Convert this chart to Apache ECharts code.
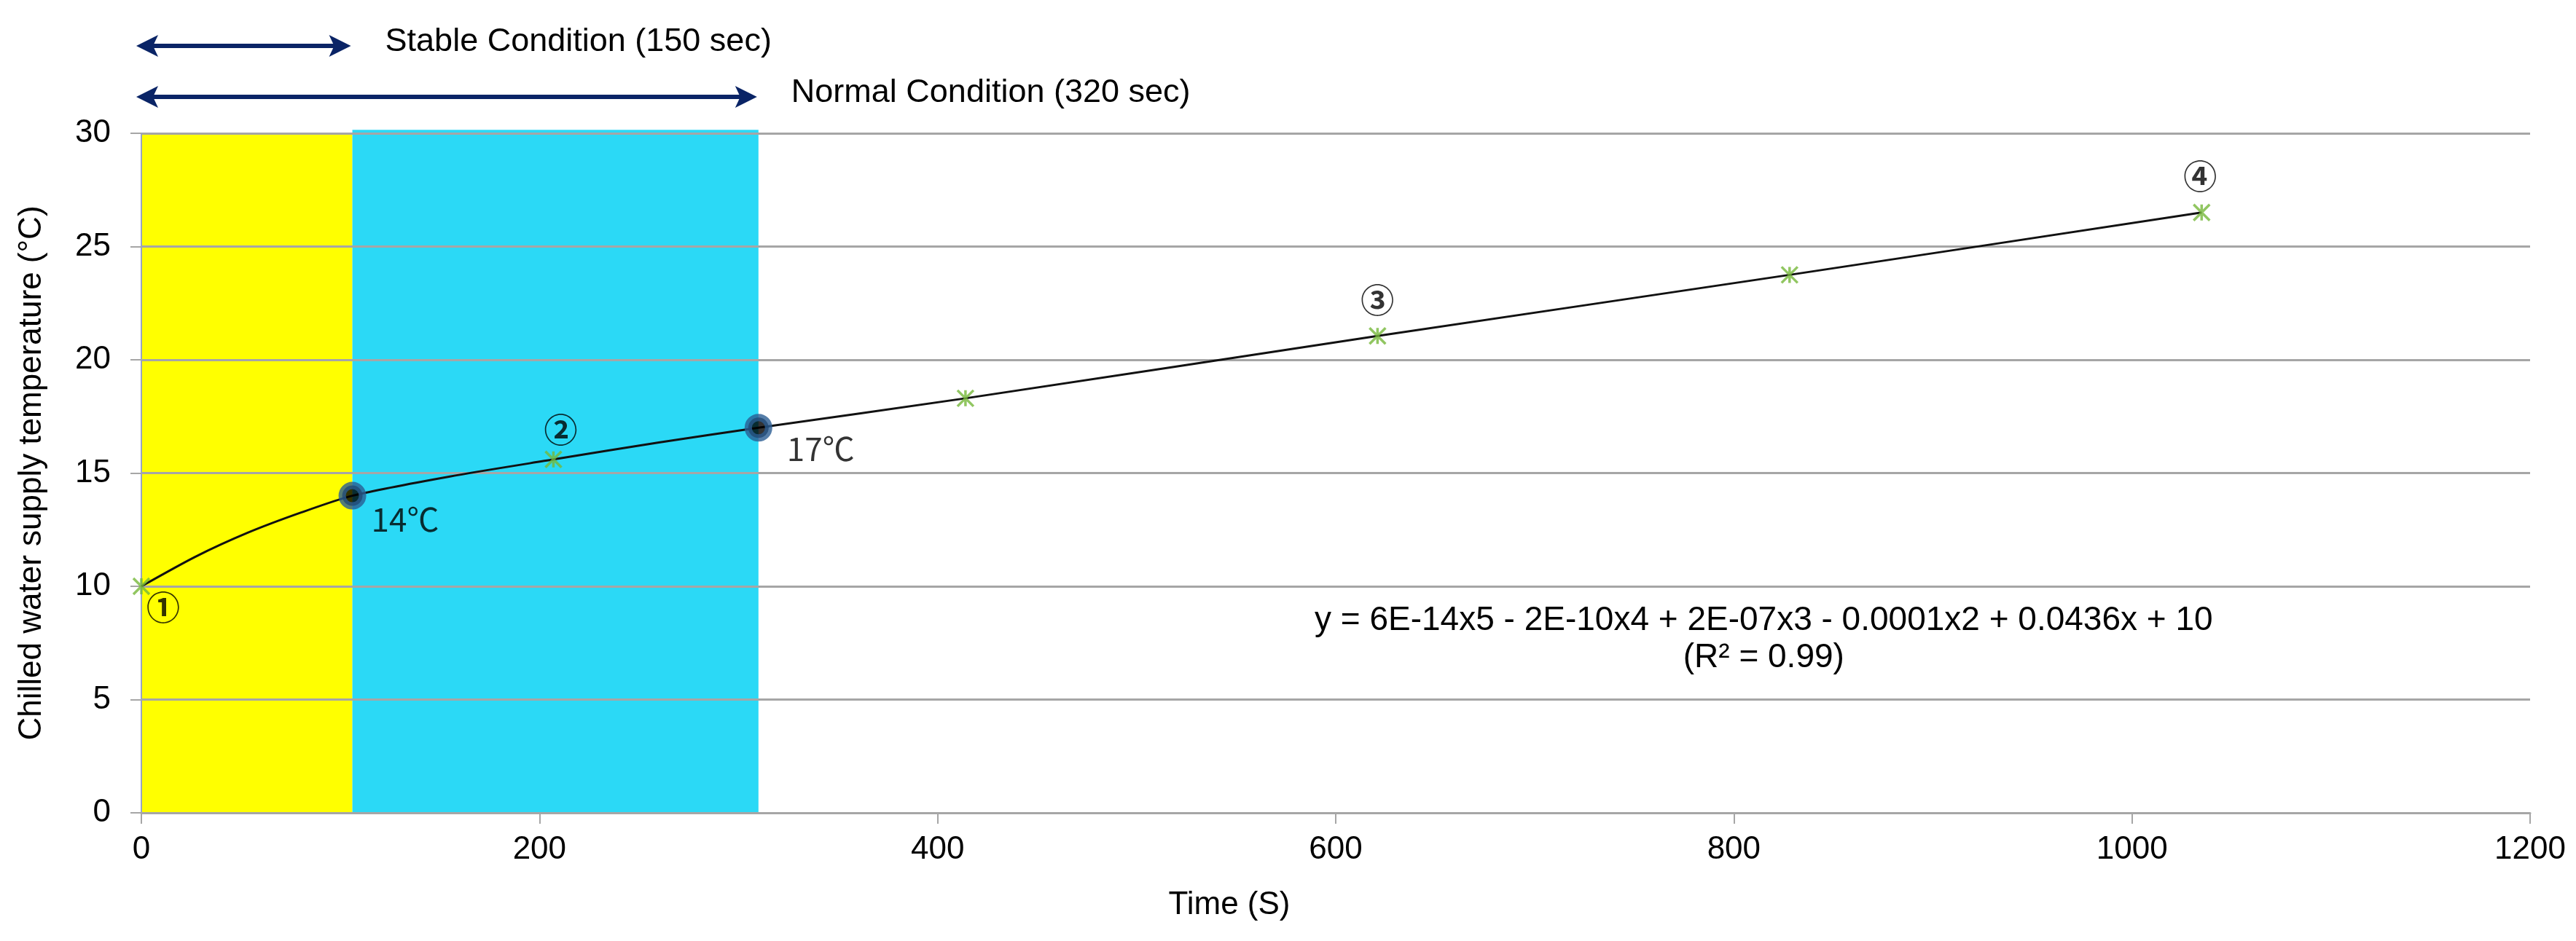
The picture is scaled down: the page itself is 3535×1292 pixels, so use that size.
<!DOCTYPE html>
<html>
<head>
<meta charset="utf-8">
<script src="https://cdn.jsdelivr.net/npm/echarts@6/dist/echarts.min.js"></script>
<style>
html,body{margin:0;padding:0;background:#ffffff;}
#chart{width:3535px;height:1292px;}
</style>
</head>
<body>
<div id="chart"></div>
<script>
// ---------- data ----------
const xTicks = [0, 200, 400, 600, 800, 1000, 1200];
const yTicks = [0, 5, 10, 15, 20, 25, 30];
const measuredX = [0, 207, 414, 621, 828, 1035];
const measuredY = [10, 15.6, 18.3, 21.05, 23.75, 26.5];
const pointLabels = ['①', '②', '', '③', '', '④'];
const keyX = [106, 310];
const keyY = [14, 17];
const keyLabels = ['14℃', '17℃'];
const trendX = [0, 27, 53, 80, 106, 155, 207, 260, 310, 414, 621, 828, 1035];
const trendY = [10, 11.3, 12.35, 13.25, 14, 14.85, 15.6, 16.35, 17, 18.3, 21.05, 23.75, 26.5];
const bandStart = [0, 106];
const bandEnd = [106, 310];
const bandTop = [30, 30.15];
const periodTexts = ['Stable Condition (150 sec)', 'Normal Condition (320 sec)'];
const equationLines = ['y = 6E-14x5 - 2E-10x4 + 2E-07x3 - 0.0001x2 + 0.0436x + 10', '(R² = 0.99)'];
const equationAnchor = [815, 7.67];
const xTitle = 'Time (S)';
const yTitle = 'Chilled water supply temperature (°C)';

// ---------- styles ----------
const bandColors = ['#FFFF00', '#2BD9F6'];
const arrowColor = '#0A2466';
const markerGreen = '#76B83A';
const FONT = '"Liberation Sans", Arial, sans-serif';
const CJK = '"Noto Sans CJK KR", "Liberation Sans", sans-serif';
const pointLabelOffsets = [[30, 29], [10, -41], [0, 0], [0, -50], [0, 0], [-2, -50]];
const keyLabelOffsets = [[2, 33], [15, 29]];

const chart = echarts.init(document.getElementById('chart'), null, {renderer: 'canvas', width: 3535, height: 1292});

const measuredData = measuredX.map((x, i) => ({
  value: [x, measuredY[i]],
  label: {
    show: pointLabels[i] !== '',
    formatter: pointLabels[i],
    position: 'inside',
    offset: pointLabelOffsets[i],
    fontFamily: CJK,
    fontWeight: 'bold',
    fontSize: 46,
    color: '#000'
  }
}));

const keyData = keyX.map((x, i) => ({
  value: [x, keyY[i]],
  label: {
    show: true,
    formatter: keyLabels[i],
    position: 'right',
    distance: 5,
    offset: keyLabelOffsets[i],
    fontFamily: CJK,
    fontSize: 44,
    color: '#000'
  }
}));

const option = {
  backgroundColor: '#ffffff',
  animation: false,
  grid: {left: 194, right: 63, top: 183, bottom: 176, containLabel: false},
  xAxis: {
    type: 'value',
    min: xTicks[0],
    max: xTicks[xTicks.length - 1],
    interval: xTicks[1] - xTicks[0],
    z: 5,
    name: xTitle,
    nameLocation: 'middle',
    nameGap: 105,
    nameTextStyle: {fontFamily: FONT, fontSize: 44, color: '#000', padding: [0, 292, 0, 0]},
    axisLine: {show: true, onZero: false, lineStyle: {color: '#A6A6A6', width: 3}},
    axisTick: {show: true, length: 15, lineStyle: {color: '#A6A6A6', width: 2}},
    axisLabel: {margin: 29, fontFamily: FONT, fontSize: 44, color: '#000', formatter: v => String(v)},
    splitLine: {show: false}
  },
  yAxis: {
    type: 'value',
    min: yTicks[0],
    max: yTicks[yTicks.length - 1],
    interval: yTicks[1] - yTicks[0],
    z: 5,
    name: yTitle,
    nameLocation: 'middle',
    nameGap: 128,
    nameRotate: 90,
    nameTextStyle: {fontFamily: FONT, fontSize: 44, color: '#000'},
    axisLine: {show: true, lineStyle: {color: '#98A3C2', width: 2}},
    axisTick: {show: true, length: 15, lineStyle: {color: '#A6A6A6', width: 2}},
    axisLabel: {margin: 42, fontFamily: FONT, fontSize: 44, color: '#000', formatter: v => String(v)},
    splitLine: {show: true, lineStyle: {color: '#A6A6A6', width: 3}}
  },
  series: [
    {
      type: 'custom',
      name: 'bands',
      z: 1,
      silent: true,
      clip: false,
      encode: {x: [0, 1], y: [2]},
      data: bandStart.map((s, i) => [s, bandEnd[i], bandTop[i]]),
      renderItem: function (params, api) {
        const p0 = api.coord([api.value(0), api.value(2)]);
        const p1 = api.coord([api.value(1), 0]);
        return {
          type: 'rect',
          shape: {x: p0[0], y: p0[1], width: p1[0] - p0[0], height: p1[1] - p0[1]},
          style: {fill: bandColors[params.dataIndex]}
        };
      }
    },
    {
      type: 'line',
      name: 'trend',
      z: 10,
      data: trendX.map((x, i) => [x, trendY[i]]),
      smooth: 0.25,
      showSymbol: false,
      symbol: 'none',
      lineStyle: {color: '#111111', width: 3}
    },
    {
      type: 'scatter',
      name: 'measured',
      z: 11,
      data: measuredData,
      symbol: 'path://M0,0L20,20M20,0L0,20M10,0L10,20',
      symbolSize: 22,
      itemStyle: {color: 'rgba(0,0,0,0)', borderColor: markerGreen, borderWidth: 3.5}
    },
    {
      type: 'scatter',
      name: 'key',
      z: 12,
      data: keyData,
      symbol: 'circle',
      symbolSize: 28,
      itemStyle: {color: '#000000', borderColor: '#2B5C92', borderWidth: 10}
    }
  ]
};

chart.setOption(option);

// ---------- annotations positioned through the axes ----------
const toPx = (x, y) => chart.convertToPixel({gridIndex: 0}, [x, y]);
const gridTopPx = toPx(0, yTicks[yTicks.length - 1])[1];
const arrowRise = [120, 50];
const graphics = [];

function arrowEls(xa, xb, y) {
  const L = 30, H = 15, N = 23;
  return [
    {type: 'line', shape: {x1: xa + N - 2, y1: y, x2: xb - N + 2, y2: y}, style: {stroke: arrowColor, lineWidth: 6}},
    {type: 'polygon', shape: {points: [[xa, y], [xa + L, y - H], [xa + N, y], [xa + L, y + H]]}, style: {fill: arrowColor}},
    {type: 'polygon', shape: {points: [[xb, y], [xb - L, y - H], [xb - N, y], [xb - L, y + H]]}, style: {fill: arrowColor}}
  ];
}

bandEnd.forEach((xe, i) => {
  const y = gridTopPx - arrowRise[i];
  const xa = toPx(bandStart[0], 0)[0] - 7;
  const xb = toPx(xe, 0)[0] - 2;
  arrowEls(xa, xb, y).forEach(e => graphics.push(e));
  graphics.push({
    type: 'text',
    style: {
      text: periodTexts[i],
      x: xb + 47,
      y: y - 5,
      textAlign: 'left',
      textVerticalAlign: 'middle',
      fontFamily: FONT,
      fontSize: 45,
      fill: '#000'
    }
  });
});

const eq = toPx(equationAnchor[0], equationAnchor[1]);
graphics.push({
  type: 'text',
  style: {
    text: equationLines.join('\n'),
    x: eq[0],
    y: eq[1],
    textAlign: 'center',
    textVerticalAlign: 'middle',
    lineHeight: 51,
    fontFamily: FONT,
    fontSize: 46,
    fill: '#000'
  }
});

chart.setOption({graphic: {elements: graphics}});
</script>
</body>
</html>
